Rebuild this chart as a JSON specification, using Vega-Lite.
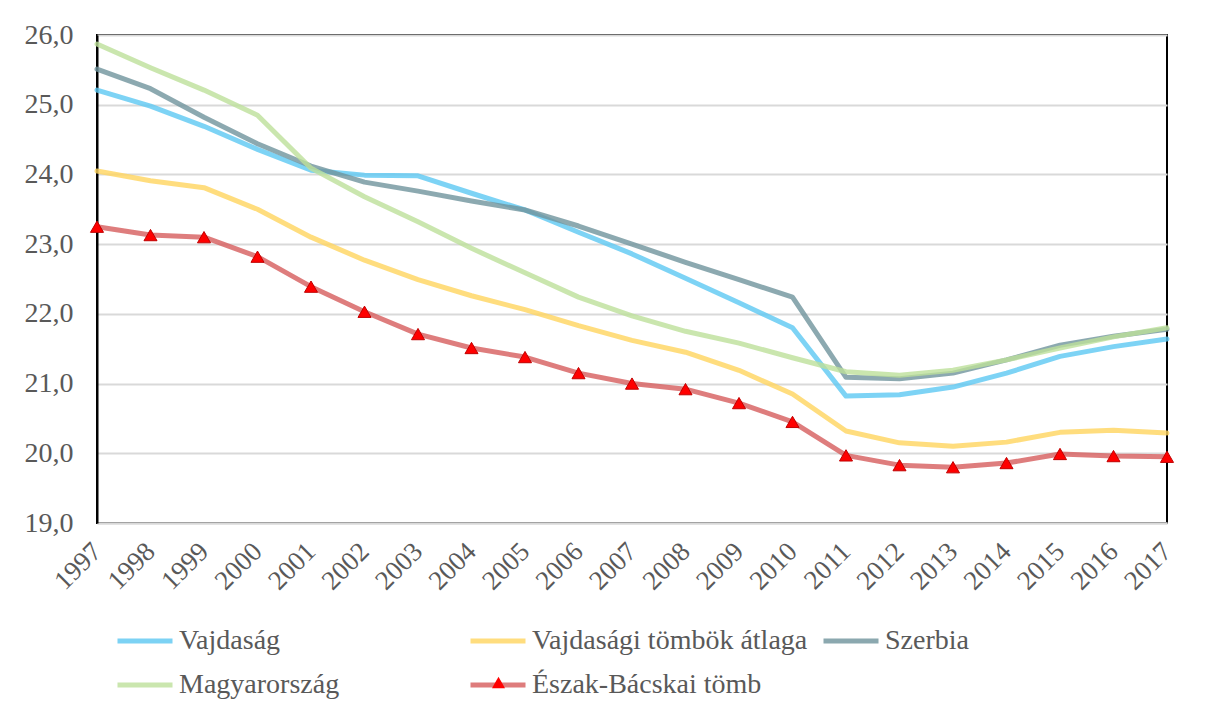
{
  "$schema": "https://vega.github.io/schema/vega-lite/v6.json",
  "width": 1070,
  "height": 488,
  "autosize": {"type": "none"},
  "padding": {"left": 97, "top": 35, "right": 46, "bottom": 195},
  "background": "white",
  "config": {
    "locale": {"number": {"decimal": ",", "thousands": " ", "grouping": [3], "currency": ["", " €"]}},
    "font": "Liberation Serif",
    "axis": {"labelFont": "Liberation Serif", "titleFont": "Liberation Serif"},
    "legend": {"labelFont": "Liberation Serif", "titleFont": "Liberation Serif", "labelFontWeight": "normal"},
    "view": {"stroke": "#000000", "strokeWidth": 2}
  },
  "data": {"values": [
    {"year": "1997", "series": "Vajdaság", "value": 25.21},
    {"year": "1998", "series": "Vajdaság", "value": 24.98},
    {"year": "1999", "series": "Vajdaság", "value": 24.69},
    {"year": "2000", "series": "Vajdaság", "value": 24.36},
    {"year": "2001", "series": "Vajdaság", "value": 24.06},
    {"year": "2002", "series": "Vajdaság", "value": 23.99},
    {"year": "2003", "series": "Vajdaság", "value": 23.98},
    {"year": "2004", "series": "Vajdaság", "value": 23.73},
    {"year": "2005", "series": "Vajdaság", "value": 23.49},
    {"year": "2006", "series": "Vajdaság", "value": 23.17},
    {"year": "2007", "series": "Vajdaság", "value": 22.86},
    {"year": "2008", "series": "Vajdaság", "value": 22.51},
    {"year": "2009", "series": "Vajdaság", "value": 22.16},
    {"year": "2010", "series": "Vajdaság", "value": 21.80},
    {"year": "2011", "series": "Vajdaság", "value": 20.82},
    {"year": "2012", "series": "Vajdaság", "value": 20.84},
    {"year": "2013", "series": "Vajdaság", "value": 20.95},
    {"year": "2014", "series": "Vajdaság", "value": 21.15},
    {"year": "2015", "series": "Vajdaság", "value": 21.39},
    {"year": "2016", "series": "Vajdaság", "value": 21.53},
    {"year": "2017", "series": "Vajdaság", "value": 21.64},
    {"year": "1997", "series": "Vajdasági tömbök átlaga", "value": 24.05},
    {"year": "1998", "series": "Vajdasági tömbök átlaga", "value": 23.91},
    {"year": "1999", "series": "Vajdasági tömbök átlaga", "value": 23.81},
    {"year": "2000", "series": "Vajdasági tömbök átlaga", "value": 23.50},
    {"year": "2001", "series": "Vajdasági tömbök átlaga", "value": 23.10},
    {"year": "2002", "series": "Vajdasági tömbök átlaga", "value": 22.77},
    {"year": "2003", "series": "Vajdasági tömbök átlaga", "value": 22.49},
    {"year": "2004", "series": "Vajdasági tömbök átlaga", "value": 22.26},
    {"year": "2005", "series": "Vajdasági tömbök átlaga", "value": 22.06},
    {"year": "2006", "series": "Vajdasági tömbök átlaga", "value": 21.83},
    {"year": "2007", "series": "Vajdasági tömbök átlaga", "value": 21.62},
    {"year": "2008", "series": "Vajdasági tömbök átlaga", "value": 21.45},
    {"year": "2009", "series": "Vajdasági tömbök átlaga", "value": 21.19},
    {"year": "2010", "series": "Vajdasági tömbök átlaga", "value": 20.85},
    {"year": "2011", "series": "Vajdasági tömbök átlaga", "value": 20.32},
    {"year": "2012", "series": "Vajdasági tömbök átlaga", "value": 20.15},
    {"year": "2013", "series": "Vajdasági tömbök átlaga", "value": 20.10},
    {"year": "2014", "series": "Vajdasági tömbök átlaga", "value": 20.16},
    {"year": "2015", "series": "Vajdasági tömbök átlaga", "value": 20.30},
    {"year": "2016", "series": "Vajdasági tömbök átlaga", "value": 20.33},
    {"year": "2017", "series": "Vajdasági tömbök átlaga", "value": 20.29},
    {"year": "1997", "series": "Szerbia", "value": 25.51},
    {"year": "1998", "series": "Szerbia", "value": 25.23},
    {"year": "1999", "series": "Szerbia", "value": 24.82},
    {"year": "2000", "series": "Szerbia", "value": 24.44},
    {"year": "2001", "series": "Szerbia", "value": 24.12},
    {"year": "2002", "series": "Szerbia", "value": 23.89},
    {"year": "2003", "series": "Szerbia", "value": 23.76},
    {"year": "2004", "series": "Szerbia", "value": 23.62},
    {"year": "2005", "series": "Szerbia", "value": 23.49},
    {"year": "2006", "series": "Szerbia", "value": 23.26},
    {"year": "2007", "series": "Szerbia", "value": 23.00},
    {"year": "2008", "series": "Szerbia", "value": 22.74},
    {"year": "2009", "series": "Szerbia", "value": 22.49},
    {"year": "2010", "series": "Szerbia", "value": 22.24},
    {"year": "2011", "series": "Szerbia", "value": 21.09},
    {"year": "2012", "series": "Szerbia", "value": 21.07},
    {"year": "2013", "series": "Szerbia", "value": 21.15},
    {"year": "2014", "series": "Szerbia", "value": 21.34},
    {"year": "2015", "series": "Szerbia", "value": 21.55},
    {"year": "2016", "series": "Szerbia", "value": 21.68},
    {"year": "2017", "series": "Szerbia", "value": 21.78},
    {"year": "1997", "series": "Magyarország", "value": 25.87},
    {"year": "1998", "series": "Magyarország", "value": 25.53},
    {"year": "1999", "series": "Magyarország", "value": 25.21},
    {"year": "2000", "series": "Magyarország", "value": 24.85},
    {"year": "2001", "series": "Magyarország", "value": 24.09},
    {"year": "2002", "series": "Magyarország", "value": 23.68},
    {"year": "2003", "series": "Magyarország", "value": 23.32},
    {"year": "2004", "series": "Magyarország", "value": 22.94},
    {"year": "2005", "series": "Magyarország", "value": 22.59},
    {"year": "2006", "series": "Magyarország", "value": 22.24},
    {"year": "2007", "series": "Magyarország", "value": 21.97},
    {"year": "2008", "series": "Magyarország", "value": 21.75},
    {"year": "2009", "series": "Magyarország", "value": 21.58},
    {"year": "2010", "series": "Magyarország", "value": 21.37},
    {"year": "2011", "series": "Magyarország", "value": 21.17},
    {"year": "2012", "series": "Magyarország", "value": 21.12},
    {"year": "2013", "series": "Magyarország", "value": 21.19},
    {"year": "2014", "series": "Magyarország", "value": 21.34},
    {"year": "2015", "series": "Magyarország", "value": 21.51},
    {"year": "2016", "series": "Magyarország", "value": 21.67},
    {"year": "2017", "series": "Magyarország", "value": 21.80},
    {"year": "1997", "series": "Észak-Bácskai tömb", "value": 23.25},
    {"year": "1998", "series": "Észak-Bácskai tömb", "value": 23.13},
    {"year": "1999", "series": "Észak-Bácskai tömb", "value": 23.10},
    {"year": "2000", "series": "Észak-Bácskai tömb", "value": 22.82},
    {"year": "2001", "series": "Észak-Bácskai tömb", "value": 22.39},
    {"year": "2002", "series": "Észak-Bácskai tömb", "value": 22.03},
    {"year": "2003", "series": "Észak-Bácskai tömb", "value": 21.71},
    {"year": "2004", "series": "Észak-Bácskai tömb", "value": 21.51},
    {"year": "2005", "series": "Észak-Bácskai tömb", "value": 21.38},
    {"year": "2006", "series": "Észak-Bácskai tömb", "value": 21.15},
    {"year": "2007", "series": "Észak-Bácskai tömb", "value": 21.00},
    {"year": "2008", "series": "Észak-Bácskai tömb", "value": 20.92},
    {"year": "2009", "series": "Észak-Bácskai tömb", "value": 20.72},
    {"year": "2010", "series": "Észak-Bácskai tömb", "value": 20.45},
    {"year": "2011", "series": "Észak-Bácskai tömb", "value": 19.97},
    {"year": "2012", "series": "Észak-Bácskai tömb", "value": 19.83},
    {"year": "2013", "series": "Észak-Bácskai tömb", "value": 19.80},
    {"year": "2014", "series": "Észak-Bácskai tömb", "value": 19.86},
    {"year": "2015", "series": "Észak-Bácskai tömb", "value": 19.99},
    {"year": "2016", "series": "Észak-Bácskai tömb", "value": 19.96},
    {"year": "2017", "series": "Észak-Bácskai tömb", "value": 19.95}
  ]},
  "encoding": {
    "x": {
      "field": "year", "type": "ordinal",
      "scale": {"type": "point", "padding": 0},
      "axis": {
        "title": null, "labelAngle": -45, "labelAlign": "right", "labelBaseline": "middle",
        "labelFont": "Liberation Serif", "labelFontSize": 27, "labelColor": "#595959", "labelPadding": 24,
        "ticks": false, "domainColor": "#d9d9d9", "domainWidth": 2, "grid": false
      }
    },
    "y": {
      "field": "value", "type": "quantitative",
      "scale": {"domain": [19, 26], "nice": false, "zero": false},
      "axis": {
        "title": null, "values": [19, 20, 21, 22, 23, 24, 25, 26], "format": ".1f",
        "labelFont": "Liberation Serif", "labelFontSize": 28, "labelColor": "#595959", "labelPadding": 24,
        "ticks": false, "domainColor": "#000000", "domainWidth": 2,
        "grid": true, "gridColor": "#d9d9d9", "gridWidth": 2
      }
    }
  },
  "layer": [
    {
      "mark": {"type": "line", "strokeWidth": 5, "opacity": 0.8, "strokeCap": "round", "strokeJoin": "round"},
      "encoding": {
        "color": {
          "field": "series", "type": "nominal",
          "scale": {
            "domain": ["Vajdaság", "Vajdasági tömbök átlaga", "Szerbia", "Magyarország", "Észak-Bácskai tömb"],
            "range": ["#5CC8F2", "#FFD55E", "#6F939C", "#BDE09A", "#D65C5C"]
          },
          "legend": {
            "title": null, "orient": "none", "legendX": 18, "legendY": 576,
            "direction": "horizontal", "columns": 3, "gridAlign": "all",
            "columnPadding": 5, "rowPadding": 0,
            "symbolType": "stroke", "symbolSize": 3025, "symbolStrokeWidth": 5,
            "labelFont": "Liberation Serif", "labelFontSize": 28, "labelFontWeight": "normal",
            "labelColor": "#595959", "labelOffset": 4, "labelLimit": 400
          }
        }
      }
    },
    {
      "transform": [{"filter": "datum.series === 'Észak-Bácskai tömb'"}],
      "mark": {"type": "point", "shape": "triangle-up", "filled": true, "size": 170, "fill": "#FF0000", "stroke": "#C00000", "strokeWidth": 1, "opacity": 1},
      "encoding": {
        "shape": {
          "field": "series", "type": "nominal",
          "scale": {"domain": ["Észak-Bácskai tömb"], "range": ["triangle-up"]},
          "legend": {
            "title": null, "orient": "none", "legendX": 394, "legendY": 640,
            "symbolSize": 170, "symbolFillColor": "#FF0000", "symbolStrokeColor": "#C00000",
            "symbolStrokeWidth": 1, "symbolOpacity": 1, "labelExpr": "''", "labelFontSize": 1
          }
        }
      }
    }
  ]
}
